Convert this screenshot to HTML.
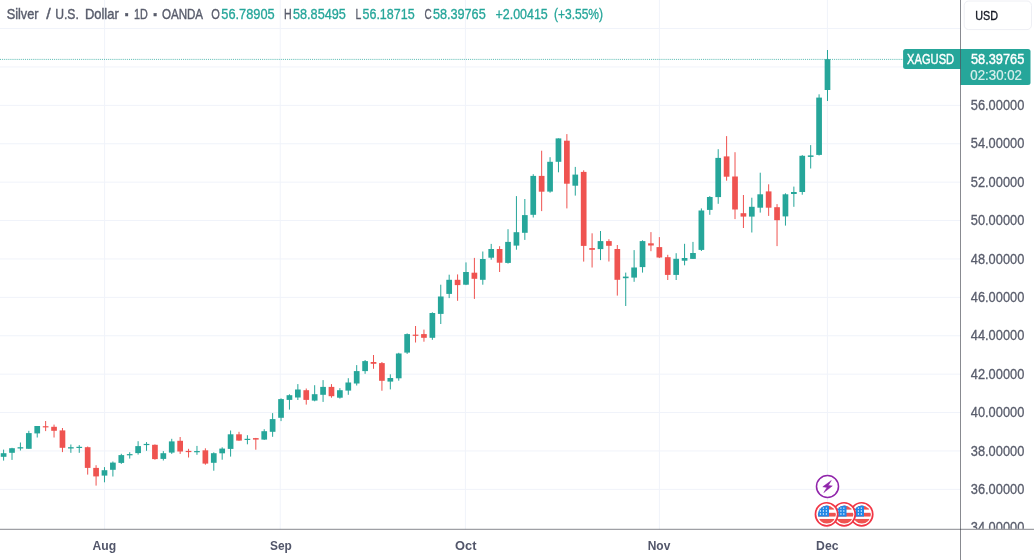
<!DOCTYPE html>
<html lang="en"><head><meta charset="utf-8"><title>Silver / U.S. Dollar</title>
<style>html,body{margin:0;padding:0;background:#fff;overflow:hidden}svg{display:block;position:absolute;left:0;top:0}text{font-family:"Liberation Sans", Arial, sans-serif;}</style>
</head><body>
<svg width="1034" height="560" viewBox="0 0 1034 560">
<rect width="1034" height="560" fill="#ffffff"/>
<defs><clipPath id="pane"><rect x="0" y="0" width="960.5" height="529.3"/></clipPath>
<clipPath id="paxis"><rect x="960.5" y="0" width="80" height="528.8"/></clipPath>
<clipPath id="flag"><ellipse cx="0.25" cy="0.25" rx="9.0" ry="9.05"/></clipPath>
<g id="usflag"><ellipse cx="0" cy="0" rx="11.15" ry="11.55" fill="#fff" stroke="#f23645" stroke-width="1.7"/><g clip-path="url(#flag)"><rect x="-9" y="-10" width="19" height="20" fill="#fff"/><rect x="-9" y="-9.4" width="19" height="4.7" fill="#ef5350"/><rect x="-9" y="-1.5" width="19" height="3.75" fill="#ef5350"/><rect x="-9" y="4.65" width="19" height="5.5" fill="#ef5350"/><rect x="-9" y="-10" width="11.4" height="12.25" fill="#2288e6"/><circle cx="-6.2" cy="-6.2" r="0.7" fill="#fff"/><circle cx="-6.2" cy="-3.25" r="0.7" fill="#fff"/><circle cx="-6.2" cy="-0.3" r="0.7" fill="#fff"/><circle cx="-3.2" cy="-6.2" r="0.7" fill="#fff"/><circle cx="-3.2" cy="-3.25" r="0.7" fill="#fff"/><circle cx="-3.2" cy="-0.3" r="0.7" fill="#fff"/><circle cx="-0.25" cy="-6.2" r="0.7" fill="#fff"/><circle cx="-0.25" cy="-3.25" r="0.7" fill="#fff"/><circle cx="-0.25" cy="-0.3" r="0.7" fill="#fff"/></g></g></defs>
<g><rect x="0" y="28.05" width="960.5" height="1" fill="#f0f3fa"/><rect x="0" y="66.45" width="960.5" height="1" fill="#f0f3fa"/><rect x="0" y="104.85" width="960.5" height="1" fill="#f0f3fa"/><rect x="0" y="143.25" width="960.5" height="1" fill="#f0f3fa"/><rect x="0" y="181.65" width="960.5" height="1" fill="#f0f3fa"/><rect x="0" y="220.05" width="960.5" height="1" fill="#f0f3fa"/><rect x="0" y="258.45" width="960.5" height="1" fill="#f0f3fa"/><rect x="0" y="296.85" width="960.5" height="1" fill="#f0f3fa"/><rect x="0" y="335.25" width="960.5" height="1" fill="#f0f3fa"/><rect x="0" y="373.65" width="960.5" height="1" fill="#f0f3fa"/><rect x="0" y="412.05" width="960.5" height="1" fill="#f0f3fa"/><rect x="0" y="450.45" width="960.5" height="1" fill="#f0f3fa"/><rect x="0" y="488.85" width="960.5" height="1" fill="#f0f3fa"/><rect x="104.10" y="0" width="1" height="529.3" fill="#f0f3fa"/><rect x="279.70" y="0" width="1" height="529.3" fill="#f0f3fa"/><rect x="464.90" y="0" width="1" height="529.3" fill="#f0f3fa"/><rect x="658.90" y="0" width="1" height="529.3" fill="#f0f3fa"/><rect x="826.90" y="0" width="1" height="529.3" fill="#f0f3fa"/></g>
<line x1="0" y1="59.4" x2="960.5" y2="59.4" stroke="#26a69a" stroke-width="1" stroke-dasharray="1.04 1.04" opacity="0.75"/>
<g clip-path="url(#pane)"><rect x="3.10" y="449.60" width="1.0" height="11.00" fill="#26a69a"/><rect x="0.75" y="453.20" width="5.7" height="3.60" fill="#26a69a"/><rect x="11.51" y="447.80" width="1.0" height="12.10" fill="#26a69a"/><rect x="9.16" y="448.20" width="5.7" height="4.60" fill="#26a69a"/><rect x="19.91" y="442.50" width="1.0" height="8.00" fill="#26a69a"/><rect x="17.56" y="447.20" width="5.7" height="1.30" fill="#26a69a"/><rect x="28.32" y="430.80" width="1.0" height="18.00" fill="#26a69a"/><rect x="25.97" y="433.10" width="5.7" height="15.70" fill="#26a69a"/><rect x="36.73" y="426.00" width="1.0" height="11.50" fill="#26a69a"/><rect x="34.38" y="426.00" width="5.7" height="7.40" fill="#26a69a"/><rect x="45.13" y="421.00" width="1.0" height="10.10" fill="#ef5350"/><rect x="42.78" y="426.20" width="5.7" height="1.20" fill="#ef5350"/><rect x="53.54" y="424.60" width="1.0" height="12.90" fill="#ef5350"/><rect x="51.19" y="426.80" width="5.7" height="4.00" fill="#ef5350"/><rect x="61.95" y="428.00" width="1.0" height="24.10" fill="#ef5350"/><rect x="59.60" y="430.40" width="5.7" height="17.40" fill="#ef5350"/><rect x="70.36" y="444.50" width="1.0" height="8.30" fill="#26a69a"/><rect x="68.01" y="447.20" width="5.7" height="1.30" fill="#26a69a"/><rect x="78.76" y="445.10" width="1.0" height="7.70" fill="#26a69a"/><rect x="76.41" y="446.80" width="5.7" height="1.20" fill="#26a69a"/><rect x="87.17" y="446.50" width="1.0" height="28.10" fill="#ef5350"/><rect x="84.82" y="447.20" width="5.7" height="20.70" fill="#ef5350"/><rect x="95.58" y="465.20" width="1.0" height="20.40" fill="#ef5350"/><rect x="93.23" y="467.90" width="5.7" height="8.50" fill="#ef5350"/><rect x="103.98" y="467.10" width="1.0" height="15.20" fill="#26a69a"/><rect x="101.63" y="470.20" width="5.7" height="5.40" fill="#26a69a"/><rect x="112.39" y="461.50" width="1.0" height="15.00" fill="#26a69a"/><rect x="110.04" y="462.60" width="5.7" height="7.20" fill="#26a69a"/><rect x="120.80" y="453.80" width="1.0" height="10.10" fill="#26a69a"/><rect x="118.45" y="455.10" width="5.7" height="7.80" fill="#26a69a"/><rect x="129.21" y="452.20" width="1.0" height="6.40" fill="#26a69a"/><rect x="126.86" y="454.10" width="5.7" height="1.20" fill="#26a69a"/><rect x="137.61" y="441.20" width="1.0" height="13.40" fill="#26a69a"/><rect x="135.26" y="446.10" width="5.7" height="7.00" fill="#26a69a"/><rect x="146.02" y="442.10" width="1.0" height="8.70" fill="#26a69a"/><rect x="143.67" y="443.90" width="5.7" height="1.20" fill="#26a69a"/><rect x="154.43" y="444.40" width="1.0" height="15.30" fill="#ef5350"/><rect x="152.08" y="444.80" width="5.7" height="14.30" fill="#ef5350"/><rect x="162.83" y="451.10" width="1.0" height="9.40" fill="#26a69a"/><rect x="160.48" y="453.20" width="5.7" height="5.70" fill="#26a69a"/><rect x="171.24" y="438.80" width="1.0" height="15.10" fill="#26a69a"/><rect x="168.89" y="441.40" width="5.7" height="11.20" fill="#26a69a"/><rect x="179.65" y="437.00" width="1.0" height="16.90" fill="#ef5350"/><rect x="177.30" y="440.80" width="5.7" height="10.70" fill="#ef5350"/><rect x="188.05" y="448.80" width="1.0" height="8.70" fill="#ef5350"/><rect x="185.70" y="450.90" width="5.7" height="1.20" fill="#ef5350"/><rect x="196.46" y="445.90" width="1.0" height="8.90" fill="#26a69a"/><rect x="194.11" y="451.05" width="5.7" height="1.20" fill="#26a69a"/><rect x="204.87" y="448.30" width="1.0" height="16.40" fill="#ef5350"/><rect x="202.52" y="450.30" width="5.7" height="13.30" fill="#ef5350"/><rect x="213.28" y="452.30" width="1.0" height="18.40" fill="#26a69a"/><rect x="210.93" y="453.20" width="5.7" height="9.60" fill="#26a69a"/><rect x="221.68" y="447.30" width="1.0" height="12.40" fill="#26a69a"/><rect x="219.33" y="448.60" width="5.7" height="4.70" fill="#26a69a"/><rect x="230.09" y="430.50" width="1.0" height="26.10" fill="#26a69a"/><rect x="227.74" y="434.30" width="5.7" height="14.60" fill="#26a69a"/><rect x="238.50" y="431.80" width="1.0" height="9.00" fill="#ef5350"/><rect x="236.15" y="434.30" width="5.7" height="6.30" fill="#ef5350"/><rect x="246.90" y="435.20" width="1.0" height="9.10" fill="#26a69a"/><rect x="244.55" y="438.80" width="5.7" height="1.20" fill="#26a69a"/><rect x="255.31" y="437.90" width="1.0" height="11.80" fill="#ef5350"/><rect x="252.96" y="438.10" width="5.7" height="1.50" fill="#ef5350"/><rect x="263.72" y="429.20" width="1.0" height="10.70" fill="#26a69a"/><rect x="261.37" y="431.20" width="5.7" height="8.40" fill="#26a69a"/><rect x="272.12" y="413.10" width="1.0" height="23.70" fill="#26a69a"/><rect x="269.77" y="419.10" width="5.7" height="12.70" fill="#26a69a"/><rect x="280.53" y="398.30" width="1.0" height="22.80" fill="#26a69a"/><rect x="278.18" y="399.10" width="5.7" height="18.70" fill="#26a69a"/><rect x="288.94" y="394.30" width="1.0" height="15.30" fill="#26a69a"/><rect x="286.59" y="395.20" width="5.7" height="4.70" fill="#26a69a"/><rect x="297.35" y="384.10" width="1.0" height="15.90" fill="#26a69a"/><rect x="295.00" y="389.50" width="5.7" height="8.00" fill="#26a69a"/><rect x="305.75" y="388.50" width="1.0" height="16.10" fill="#ef5350"/><rect x="303.40" y="390.20" width="5.7" height="9.70" fill="#ef5350"/><rect x="314.16" y="385.20" width="1.0" height="16.10" fill="#26a69a"/><rect x="311.81" y="394.20" width="5.7" height="6.40" fill="#26a69a"/><rect x="322.57" y="380.10" width="1.0" height="21.80" fill="#26a69a"/><rect x="320.22" y="386.90" width="5.7" height="7.90" fill="#26a69a"/><rect x="330.97" y="384.10" width="1.0" height="13.60" fill="#ef5350"/><rect x="328.62" y="386.90" width="5.7" height="9.30" fill="#ef5350"/><rect x="339.38" y="388.10" width="1.0" height="10.50" fill="#26a69a"/><rect x="337.03" y="390.20" width="5.7" height="7.50" fill="#26a69a"/><rect x="347.79" y="378.20" width="1.0" height="16.60" fill="#26a69a"/><rect x="345.44" y="382.50" width="5.7" height="8.10" fill="#26a69a"/><rect x="356.19" y="365.10" width="1.0" height="20.40" fill="#26a69a"/><rect x="353.84" y="371.10" width="5.7" height="12.40" fill="#26a69a"/><rect x="364.60" y="360.00" width="1.0" height="13.80" fill="#26a69a"/><rect x="362.25" y="361.10" width="5.7" height="10.00" fill="#26a69a"/><rect x="373.01" y="355.00" width="1.0" height="13.80" fill="#ef5350"/><rect x="370.66" y="362.00" width="5.7" height="1.80" fill="#ef5350"/><rect x="381.42" y="362.00" width="1.0" height="28.75" fill="#ef5350"/><rect x="379.06" y="363.10" width="5.7" height="17.70" fill="#ef5350"/><rect x="389.82" y="374.30" width="1.0" height="15.10" fill="#26a69a"/><rect x="387.47" y="378.00" width="5.7" height="3.60" fill="#26a69a"/><rect x="398.23" y="352.80" width="1.0" height="27.90" fill="#26a69a"/><rect x="395.88" y="353.50" width="5.7" height="24.80" fill="#26a69a"/><rect x="406.64" y="333.40" width="1.0" height="20.50" fill="#26a69a"/><rect x="404.29" y="334.10" width="5.7" height="18.50" fill="#26a69a"/><rect x="415.04" y="326.00" width="1.0" height="16.50" fill="#ef5350"/><rect x="412.69" y="334.65" width="5.7" height="1.20" fill="#ef5350"/><rect x="423.45" y="329.60" width="1.0" height="12.10" fill="#ef5350"/><rect x="421.10" y="334.10" width="5.7" height="3.70" fill="#ef5350"/><rect x="431.86" y="312.30" width="1.0" height="27.50" fill="#26a69a"/><rect x="429.51" y="313.00" width="5.7" height="24.80" fill="#26a69a"/><rect x="440.26" y="284.70" width="1.0" height="39.30" fill="#26a69a"/><rect x="437.91" y="296.50" width="5.7" height="17.40" fill="#26a69a"/><rect x="448.67" y="274.70" width="1.0" height="23.40" fill="#26a69a"/><rect x="446.32" y="279.80" width="5.7" height="14.10" fill="#26a69a"/><rect x="457.08" y="274.40" width="1.0" height="26.40" fill="#ef5350"/><rect x="454.73" y="279.80" width="5.7" height="5.30" fill="#ef5350"/><rect x="465.49" y="262.40" width="1.0" height="22.70" fill="#26a69a"/><rect x="463.13" y="272.00" width="5.7" height="12.70" fill="#26a69a"/><rect x="473.89" y="257.90" width="1.0" height="41.00" fill="#ef5350"/><rect x="471.54" y="272.70" width="5.7" height="6.10" fill="#ef5350"/><rect x="482.30" y="251.50" width="1.0" height="33.20" fill="#26a69a"/><rect x="479.95" y="259.00" width="5.7" height="20.80" fill="#26a69a"/><rect x="490.71" y="243.90" width="1.0" height="15.80" fill="#26a69a"/><rect x="488.36" y="249.00" width="5.7" height="8.70" fill="#26a69a"/><rect x="499.11" y="246.20" width="1.0" height="25.80" fill="#ef5350"/><rect x="496.76" y="249.00" width="5.7" height="13.70" fill="#ef5350"/><rect x="507.52" y="229.20" width="1.0" height="34.40" fill="#26a69a"/><rect x="505.17" y="241.90" width="5.7" height="21.00" fill="#26a69a"/><rect x="515.93" y="196.10" width="1.0" height="53.60" fill="#26a69a"/><rect x="513.58" y="232.20" width="5.7" height="13.40" fill="#26a69a"/><rect x="524.33" y="199.00" width="1.0" height="40.90" fill="#26a69a"/><rect x="521.98" y="215.10" width="5.7" height="17.70" fill="#26a69a"/><rect x="532.74" y="174.20" width="1.0" height="43.30" fill="#26a69a"/><rect x="530.39" y="175.90" width="5.7" height="38.90" fill="#26a69a"/><rect x="541.15" y="150.70" width="1.0" height="60.40" fill="#ef5350"/><rect x="538.80" y="175.90" width="5.7" height="15.80" fill="#ef5350"/><rect x="549.56" y="157.20" width="1.0" height="35.50" fill="#26a69a"/><rect x="547.21" y="161.80" width="5.7" height="29.80" fill="#26a69a"/><rect x="557.96" y="138.40" width="1.0" height="33.90" fill="#26a69a"/><rect x="555.61" y="138.40" width="5.7" height="23.40" fill="#26a69a"/><rect x="566.37" y="134.10" width="1.0" height="74.30" fill="#ef5350"/><rect x="564.02" y="140.70" width="5.7" height="43.00" fill="#ef5350"/><rect x="574.78" y="166.90" width="1.0" height="28.70" fill="#26a69a"/><rect x="572.43" y="174.60" width="5.7" height="11.10" fill="#26a69a"/><rect x="583.18" y="170.30" width="1.0" height="91.30" fill="#ef5350"/><rect x="580.83" y="171.90" width="5.7" height="74.00" fill="#ef5350"/><rect x="591.59" y="233.30" width="1.0" height="34.20" fill="#ef5350"/><rect x="589.24" y="248.10" width="5.7" height="1.70" fill="#ef5350"/><rect x="600.00" y="231.00" width="1.0" height="29.10" fill="#26a69a"/><rect x="597.65" y="241.10" width="5.7" height="8.00" fill="#26a69a"/><rect x="608.40" y="239.20" width="1.0" height="22.30" fill="#ef5350"/><rect x="606.05" y="241.10" width="5.7" height="4.70" fill="#ef5350"/><rect x="616.81" y="245.00" width="1.0" height="50.60" fill="#ef5350"/><rect x="614.46" y="249.00" width="5.7" height="30.80" fill="#ef5350"/><rect x="625.22" y="272.60" width="1.0" height="33.40" fill="#26a69a"/><rect x="622.87" y="276.60" width="5.7" height="1.60" fill="#26a69a"/><rect x="633.62" y="250.10" width="1.0" height="31.70" fill="#26a69a"/><rect x="631.27" y="267.50" width="5.7" height="10.10" fill="#26a69a"/><rect x="642.03" y="240.30" width="1.0" height="32.30" fill="#26a69a"/><rect x="639.68" y="241.10" width="5.7" height="26.00" fill="#26a69a"/><rect x="650.44" y="232.10" width="1.0" height="19.10" fill="#ef5350"/><rect x="648.09" y="243.30" width="5.7" height="2.20" fill="#ef5350"/><rect x="658.85" y="237.10" width="1.0" height="21.00" fill="#ef5350"/><rect x="656.50" y="247.10" width="5.7" height="10.40" fill="#ef5350"/><rect x="667.25" y="254.80" width="1.0" height="25.20" fill="#ef5350"/><rect x="664.90" y="257.20" width="5.7" height="17.70" fill="#ef5350"/><rect x="675.66" y="253.20" width="1.0" height="26.80" fill="#26a69a"/><rect x="673.31" y="258.80" width="5.7" height="16.10" fill="#26a69a"/><rect x="684.07" y="243.80" width="1.0" height="21.50" fill="#26a69a"/><rect x="681.72" y="258.00" width="5.7" height="2.70" fill="#26a69a"/><rect x="692.47" y="241.90" width="1.0" height="17.00" fill="#26a69a"/><rect x="690.12" y="253.00" width="5.7" height="5.90" fill="#26a69a"/><rect x="700.88" y="208.40" width="1.0" height="42.60" fill="#26a69a"/><rect x="698.53" y="210.50" width="5.7" height="39.40" fill="#26a69a"/><rect x="709.29" y="196.10" width="1.0" height="18.70" fill="#26a69a"/><rect x="706.94" y="197.00" width="5.7" height="12.90" fill="#26a69a"/><rect x="717.70" y="149.20" width="1.0" height="54.60" fill="#26a69a"/><rect x="715.35" y="157.90" width="5.7" height="39.20" fill="#26a69a"/><rect x="726.10" y="136.10" width="1.0" height="44.60" fill="#ef5350"/><rect x="723.75" y="156.40" width="5.7" height="20.30" fill="#ef5350"/><rect x="734.51" y="152.20" width="1.0" height="66.90" fill="#ef5350"/><rect x="732.16" y="176.50" width="5.7" height="33.00" fill="#ef5350"/><rect x="742.92" y="195.00" width="1.0" height="33.00" fill="#ef5350"/><rect x="740.57" y="213.20" width="5.7" height="3.40" fill="#ef5350"/><rect x="751.32" y="197.70" width="1.0" height="34.80" fill="#26a69a"/><rect x="748.97" y="206.80" width="5.7" height="9.80" fill="#26a69a"/><rect x="759.73" y="172.70" width="1.0" height="39.90" fill="#26a69a"/><rect x="757.38" y="194.30" width="5.7" height="13.40" fill="#26a69a"/><rect x="768.14" y="184.30" width="1.0" height="31.60" fill="#ef5350"/><rect x="765.79" y="191.40" width="5.7" height="16.30" fill="#ef5350"/><rect x="776.54" y="204.10" width="1.0" height="42.00" fill="#ef5350"/><rect x="774.19" y="207.20" width="5.7" height="13.00" fill="#ef5350"/><rect x="784.95" y="193.30" width="1.0" height="32.30" fill="#26a69a"/><rect x="782.60" y="194.30" width="5.7" height="22.10" fill="#26a69a"/><rect x="793.36" y="186.60" width="1.0" height="20.20" fill="#26a69a"/><rect x="791.01" y="192.00" width="5.7" height="2.00" fill="#26a69a"/><rect x="801.76" y="155.10" width="1.0" height="39.60" fill="#26a69a"/><rect x="799.41" y="155.80" width="5.7" height="36.20" fill="#26a69a"/><rect x="810.17" y="145.10" width="1.0" height="23.40" fill="#26a69a"/><rect x="807.82" y="155.40" width="5.7" height="1.50" fill="#26a69a"/><rect x="818.58" y="94.30" width="1.0" height="61.20" fill="#26a69a"/><rect x="816.23" y="97.60" width="5.7" height="57.30" fill="#26a69a"/><rect x="826.99" y="50.00" width="1.0" height="51.00" fill="#26a69a"/><rect x="824.64" y="59.20" width="5.7" height="30.80" fill="#26a69a"/></g>
<g><use href="#usflag" x="861.6" y="514.3"/><use href="#usflag" x="844.1" y="514.3"/><use href="#usflag" x="826.6" y="514.3"/></g>
<g><circle cx="827.5" cy="486.5" r="11.0" fill="#fff" stroke="#9126ab" stroke-width="1.55"/><path d="M831.3 480.5 L822.8 486.8 L827.0 487.4 L823.8 492.6 L832.3 485.9 L828.3 485.4 Z" fill="#9126ab" stroke="#9126ab" stroke-width="0.5" stroke-linejoin="round"/></g>
<g><text x="6.7" y="19.0" font-size="14.2" fill="#595d6c" textLength="31.9" lengthAdjust="spacingAndGlyphs" stroke="#595d6c" stroke-width="0.4">Silver</text><text x="46.3" y="19.0" font-size="14.2" fill="#595d6c" textLength="4.5" lengthAdjust="spacingAndGlyphs" stroke="#595d6c" stroke-width="0.4">/</text><text x="55.2" y="19.0" font-size="14.2" fill="#595d6c" textLength="23.6" lengthAdjust="spacingAndGlyphs" stroke="#595d6c" stroke-width="0.4">U.S.</text><text x="84.9" y="19.0" font-size="14.2" fill="#595d6c" textLength="33.9" lengthAdjust="spacingAndGlyphs" stroke="#595d6c" stroke-width="0.4">Dollar</text><text x="123.9" y="21.0" font-size="19" fill="#595d6c" font-weight="bold" stroke="#595d6c" stroke-width="0.3">·</text><text x="134.0" y="19.0" font-size="14.2" fill="#595d6c" textLength="13.8" lengthAdjust="spacingAndGlyphs" stroke="#595d6c" stroke-width="0.4">1D</text><text x="152.4" y="21.0" font-size="19" fill="#595d6c" font-weight="bold" stroke="#595d6c" stroke-width="0.3">·</text><text x="161.9" y="19.0" font-size="14.2" fill="#595d6c" textLength="41.2" lengthAdjust="spacingAndGlyphs" stroke="#595d6c" stroke-width="0.4">OANDA</text></g>
<g><text x="211.2" y="19.0" font-size="14.0" fill="#595d6c" textLength="8.6" lengthAdjust="spacingAndGlyphs" stroke="#595d6c" stroke-width="0.3">O</text><text x="221.3" y="19.0" font-size="14.0" fill="#26a69a" textLength="53.4" lengthAdjust="spacingAndGlyphs" stroke="#26a69a" stroke-width="0.3">56.78905</text><text x="283.9" y="19.0" font-size="14.0" fill="#595d6c" textLength="7.7" lengthAdjust="spacingAndGlyphs" stroke="#595d6c" stroke-width="0.3">H</text><text x="293.0" y="19.0" font-size="14.0" fill="#26a69a" textLength="52.8" lengthAdjust="spacingAndGlyphs" stroke="#26a69a" stroke-width="0.3">58.85495</text><text x="355.4" y="19.0" font-size="14.0" fill="#595d6c" textLength="5.8" lengthAdjust="spacingAndGlyphs" stroke="#595d6c" stroke-width="0.3">L</text><text x="362.5" y="19.0" font-size="14.0" fill="#26a69a" textLength="52.1" lengthAdjust="spacingAndGlyphs" stroke="#26a69a" stroke-width="0.3">56.18715</text><text x="424.4" y="19.0" font-size="14.0" fill="#595d6c" textLength="7.2" lengthAdjust="spacingAndGlyphs" stroke="#595d6c" stroke-width="0.3">C</text><text x="432.9" y="19.0" font-size="14.0" fill="#26a69a" textLength="52.8" lengthAdjust="spacingAndGlyphs" stroke="#26a69a" stroke-width="0.3">58.39765</text><text x="495.5" y="19.0" font-size="14.0" fill="#26a69a" textLength="52.3" lengthAdjust="spacingAndGlyphs" stroke="#26a69a" stroke-width="0.3">+2.00415</text><text x="553.9" y="19.0" font-size="14.0" fill="#26a69a" textLength="49.2" lengthAdjust="spacingAndGlyphs" stroke="#26a69a" stroke-width="0.3">(+3.55%)</text></g>
<g clip-path="url(#paxis)"><text x="970.8" y="109.95" font-size="14.0" fill="#595d6c" textLength="53.5" lengthAdjust="spacingAndGlyphs" stroke="#595d6c" stroke-width="0.3">56.00000</text><text x="970.8" y="148.35" font-size="14.0" fill="#595d6c" textLength="53.5" lengthAdjust="spacingAndGlyphs" stroke="#595d6c" stroke-width="0.3">54.00000</text><text x="970.8" y="186.75" font-size="14.0" fill="#595d6c" textLength="53.5" lengthAdjust="spacingAndGlyphs" stroke="#595d6c" stroke-width="0.3">52.00000</text><text x="970.8" y="225.15" font-size="14.0" fill="#595d6c" textLength="53.5" lengthAdjust="spacingAndGlyphs" stroke="#595d6c" stroke-width="0.3">50.00000</text><text x="970.8" y="263.55" font-size="14.0" fill="#595d6c" textLength="53.5" lengthAdjust="spacingAndGlyphs" stroke="#595d6c" stroke-width="0.3">48.00000</text><text x="970.8" y="301.95" font-size="14.0" fill="#595d6c" textLength="53.5" lengthAdjust="spacingAndGlyphs" stroke="#595d6c" stroke-width="0.3">46.00000</text><text x="970.8" y="340.35" font-size="14.0" fill="#595d6c" textLength="53.5" lengthAdjust="spacingAndGlyphs" stroke="#595d6c" stroke-width="0.3">44.00000</text><text x="970.8" y="378.75" font-size="14.0" fill="#595d6c" textLength="53.5" lengthAdjust="spacingAndGlyphs" stroke="#595d6c" stroke-width="0.3">42.00000</text><text x="970.8" y="417.15" font-size="14.0" fill="#595d6c" textLength="53.5" lengthAdjust="spacingAndGlyphs" stroke="#595d6c" stroke-width="0.3">40.00000</text><text x="970.8" y="455.55" font-size="14.0" fill="#595d6c" textLength="53.5" lengthAdjust="spacingAndGlyphs" stroke="#595d6c" stroke-width="0.3">38.00000</text><text x="970.8" y="493.95" font-size="14.0" fill="#595d6c" textLength="53.5" lengthAdjust="spacingAndGlyphs" stroke="#595d6c" stroke-width="0.3">36.00000</text><text x="970.8" y="532.35" font-size="14.0" fill="#595d6c" textLength="53.5" lengthAdjust="spacingAndGlyphs" stroke="#595d6c" stroke-width="0.3">34.00000</text></g>
<path d="M905.6 49.1 H960.5 V68.9 H905.6 a2.5 2.5 0 0 1 -2.5 -2.5 V51.6 a2.5 2.5 0 0 1 2.5 -2.5 Z" fill="#26a69a"/>
<path d="M960.5 49.1 H1028 a2.5 2.5 0 0 1 2.5 2.5 V82.5 a2.5 2.5 0 0 1 -2.5 2.5 H960.5 Z" fill="#26a69a"/>
<text x="907.1" y="64.2" font-size="13.8" fill="#ffffff" textLength="47.0" lengthAdjust="spacingAndGlyphs" stroke="#ffffff" stroke-width="0.4">XAGUSD</text>
<text x="971.0" y="64.2" font-size="14.0" fill="#ffffff" textLength="53.3" lengthAdjust="spacingAndGlyphs" stroke="#ffffff" stroke-width="0.4">58.39765</text>
<text x="970.3" y="80.1" font-size="14.0" fill="#ffffff" textLength="51.7" lengthAdjust="spacingAndGlyphs" stroke="#ffffff" stroke-width="0.2" fill-opacity="0.8" stroke-opacity="0.8">02:30:02</text>
<rect x="964.2" y="1.0" width="67.3" height="28.6" rx="4.5" fill="#ffffff" stroke="#eeeff4" stroke-width="1"/>
<text x="975.3" y="19.7" font-size="13.6" fill="#131722" textLength="22.8" lengthAdjust="spacingAndGlyphs" stroke="#131722" stroke-width="0.35">USD</text>
<rect x="960.0" y="0" width="1" height="560" fill="rgba(42,46,57,0.56)"/>
<rect x="0" y="528.8" width="1034" height="1" fill="rgba(42,46,57,0.56)"/>
<g><text x="92.5" y="549.6" font-size="13.2" fill="#52566a" textLength="23.6" lengthAdjust="spacingAndGlyphs" font-weight="bold">Aug</text><text x="270.0" y="549.6" font-size="13.2" fill="#52566a" textLength="21.8" lengthAdjust="spacingAndGlyphs" font-weight="bold">Sep</text><text x="455.1" y="549.6" font-size="13.2" fill="#52566a" textLength="21.4" lengthAdjust="spacingAndGlyphs" font-weight="bold">Oct</text><text x="647.7" y="549.6" font-size="13.2" fill="#52566a" textLength="22.6" lengthAdjust="spacingAndGlyphs" font-weight="bold">Nov</text><text x="816.1" y="549.6" font-size="13.2" fill="#52566a" textLength="22.4" lengthAdjust="spacingAndGlyphs" font-weight="bold">Dec</text></g>
</svg></body></html>
